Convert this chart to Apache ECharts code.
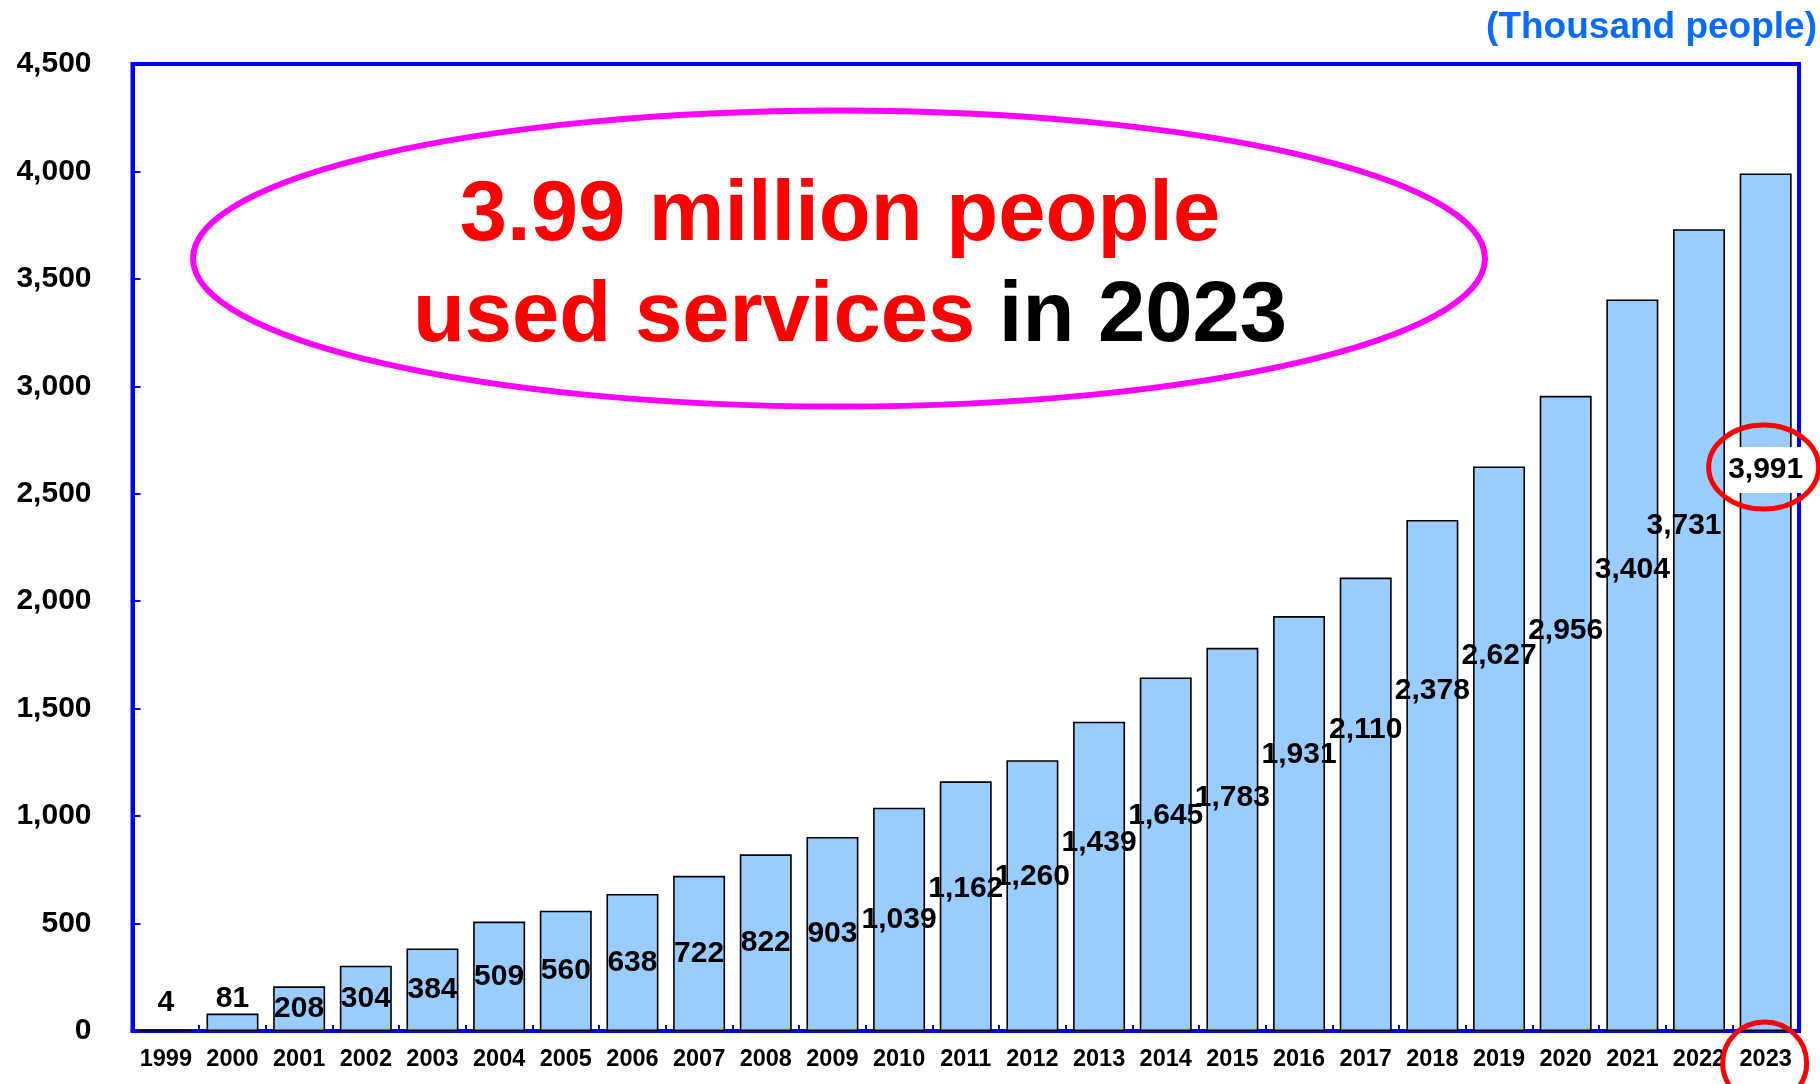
<!DOCTYPE html>
<html>
<head>
<meta charset="utf-8">
<title>Service users by year</title>
<script src="https://cdn.jsdelivr.net/npm/echarts@6/dist/echarts.min.js"></script>
<style>
  html, body { margin: 0; padding: 0; background: #ffffff; }
  #chart { width: 1820px; height: 1084px; }
</style>
</head>
<body>
<div id="chart"></div>
<script>
// Yearly number of service users, in thousands of people
const years = ['1999', '2000', '2001', '2002', '2003', '2004', '2005', '2006', '2007',
  '2008', '2009', '2010', '2011', '2012', '2013', '2014', '2015', '2016', '2017',
  '2018', '2019', '2020', '2021', '2022', '2023'];
const users = [4, 81, 208, 304, 384, 509, 560, 638, 722, 822, 903, 1039, 1162,
  1260, 1439, 1645, 1783, 1931, 2110, 2378, 2627, 2956, 3404, 3731, 3991];

const unitText = '(Thousand people)';
const headline = '3.99 million people';
const subRed = 'used services';
const subBlack = 'in 2023';
const focusYear = '2023';

const FONT = '"Liberation Sans", Arial, Helvetica, sans-serif';
const BLUE = '#0000ff';
const RED = '#ff0000';

const fmt = v => String(v).replace(/\B(?=(\d{3})+(?!\d))/g, ',');

// how far down from the bar top the value label sits, as a share of the bar
function labelDepth(v) {
  if (v < 1300) return 0.43;
  if (v < 1800) return 0.39;
  if (v < 2700) return 0.335;
  return 0.37;
}

// label placement rule: tiny bars get the value above, low bars centred,
// tall bars a little above the middle; the latest year is boxed in white
function labelFor(v, year) {
  if (year === focusYear) {
    return { position: ['50%', '34.6%'], align: 'center', verticalAlign: 'middle',
             backgroundColor: '#ffffff', padding: [5, 2], lineHeight: 36 };
  }
  if (v < 150) return { position: 'top', distance: v < 20 ? 12 : 0 };
  if (v < 1100) return { position: 'inside' };
  const lab = { position: ['50%', (labelDepth(v) * 100) + '%'], align: 'center', verticalAlign: 'middle' };
  if (year === '2022') lab.offset = [-15, 0];
  return lab;
}

const chart = echarts.init(document.getElementById('chart'), null, { renderer: 'canvas' });

const option = {
  animation: false,
  backgroundColor: '#ffffff',
  grid: {
    left: 132.5, right: 21, top: 64, bottom: 53,
    show: true, borderColor: BLUE, borderWidth: 4, backgroundColor: 'transparent'
  },
  xAxis: {
    type: 'category',
    data: years,
    axisLine: { show: true, lineStyle: { color: BLUE, width: 4 } },
    axisTick: { show: true, inside: true, length: 6, lineStyle: { color: BLUE, width: 2 } },
    axisLabel: { interval: 0, hideOverlap: false, color: '#000', fontFamily: FONT,
                 fontWeight: 'bold', fontSize: 23.5, margin: 17 },
    splitLine: { show: false }
  },
  yAxis: {
    type: 'value',
    min: 0, max: 4500, interval: 500,
    axisLine: { show: true, lineStyle: { color: BLUE, width: 4 } },
    axisTick: { show: true, inside: true, length: 8, lineStyle: { color: BLUE, width: 2 } },
    axisLabel: { color: '#000', fontFamily: FONT, fontWeight: 'bold', fontSize: 30, margin: 41,
                 formatter: v => fmt(v) },
    splitLine: { show: false }
  },
  series: [{
    type: 'bar',
    barCategoryGap: '22%',
    itemStyle: { color: '#99ccff', borderColor: '#000000', borderWidth: 1.6 },
    label: {
      show: true, color: '#000', fontFamily: FONT, fontWeight: 'bold', fontSize: 30,
      formatter: p => fmt(p.value)
    },
    data: users.map((v, i) => ({ value: v, label: labelFor(v, years[i]) }))
  }]
};

chart.setOption(option);

// annotations: headline bubble, unit note and highlight rings around the latest year
const [fx, fTop] = chart.convertToPixel({ seriesIndex: 0 }, [focusYear, users[years.indexOf(focusYear)]]);
const [, fBase] = chart.convertToPixel({ seriesIndex: 0 }, [focusYear, 0]);
const focusLabelY = fTop + 0.346 * (fBase - fTop);

chart.setOption({
  graphic: [
    {
      type: 'text', x: 1817, y: 28, z: 10,
      style: { text: unitText, fill: '#0a6cff', font: 'bold 37px ' + FONT,
               textAlign: 'right', textVerticalAlign: 'middle' }
    },
    {
      type: 'ellipse', z: 5,
      shape: { cx: 839, cy: 258.5, rx: 646, ry: 148 },
      style: { fill: 'rgba(255,255,255,0)', stroke: '#ff00ff', lineWidth: 6 }
    },
    {
      type: 'text', x: 840, y: 217, z: 6,
      style: { text: headline, fill: RED, font: 'bold 85px ' + FONT,
               textAlign: 'center', textVerticalAlign: 'middle' }
    },
    {
      type: 'text', x: 850, y: 318, z: 6,
      style: {
        text: '{r|' + subRed + '} {k|' + subBlack + '}',
        font: 'bold 85px ' + FONT, fill: '#000',
        textAlign: 'center', textVerticalAlign: 'middle',
        rich: {
          r: { fill: RED, font: 'bold 85px ' + FONT },
          k: { fill: '#000000', font: 'bold 85px ' + FONT }
        }
      }
    },
    {
      type: 'ellipse', z: 20,
      shape: { cx: fx - 2, cy: focusLabelY - 3, rx: 55, ry: 42 },
      style: { fill: 'rgba(255,255,255,0)', stroke: RED, lineWidth: 5 }
    },
    {
      type: 'ellipse', z: 20,
      shape: { cx: fx - 1, cy: fBase + 32, rx: 42, ry: 41 },
      style: { fill: 'rgba(255,255,255,0)', stroke: RED, lineWidth: 5 }
    }
  ]
});
</script>
</body>
</html>
